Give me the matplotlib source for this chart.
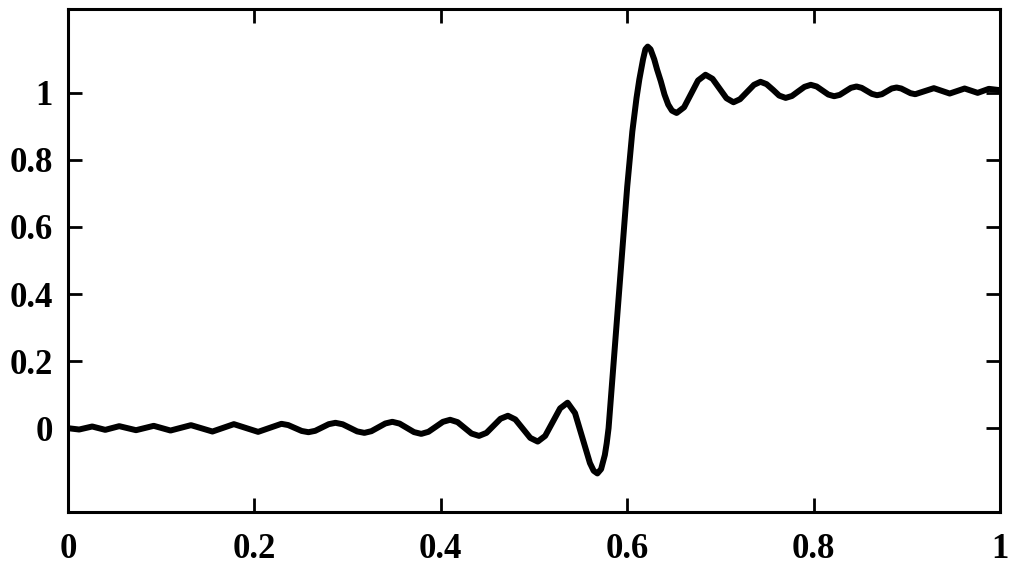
import matplotlib
matplotlib.use("Agg")
import matplotlib.pyplot as plt

# points (x, y): extremes plus in-between points
x_vals = [
    0.000, 0.012, 0.026, 0.040, 0.055, 0.073, 0.092, 0.110, 0.132, 0.155,
    0.178, 0.204, 0.229, 0.23625, 0.2435, 0.25075,
    0.258, 0.26525, 0.2725, 0.27975, 0.287, 0.29475, 0.3025, 0.31025,
    0.318, 0.3255, 0.333, 0.3405, 0.348, 0.35575, 0.3635, 0.37125,
    0.379, 0.38675, 0.3945, 0.40225,
    0.410, 0.418, 0.4255, 0.433, 0.441, 0.449, 0.4565, 0.464,
    0.472, 0.480, 0.488, 0.496, 0.504, 0.512, 0.520, 0.528,
    0.536, 0.544, 0.552, 0.560, 0.564, 0.568, 0.572, 0.576, 0.578,
    0.580, 0.585, 0.590, 0.595, 0.600, 0.6055, 0.610, 0.613, 0.617, 0.6195,
    0.622, 0.625, 0.629, 0.632, 0.636, 0.640, 0.644, 0.648,
    0.653, 0.661, 0.6685, 0.676, 0.684, 0.6915, 0.699, 0.7065,
    0.714, 0.721, 0.7285, 0.736, 0.743, 0.7495, 0.7565, 0.763,
    0.770, 0.77675, 0.7835, 0.79025, 0.797, 0.80325, 0.8095, 0.81575,
    0.822, 0.828, 0.834, 0.840, 0.846, 0.8515, 0.857, 0.8625,
    0.868, 0.87325, 0.8785, 0.88375, 0.889, 0.894, 0.899, 0.904,
    0.909, 0.929, 0.946, 0.962, 0.976, 0.988, 1.000,
]
y_vals = [
    0.000, -0.004, 0.005, -0.005, 0.006, -0.006, 0.007, -0.007, 0.009, -0.010,
    0.012, -0.011, 0.013, 0.0093, 0.0005, -0.0083,
    -0.012, -0.0079, 0.002, 0.0119, 0.016, 0.0116, 0.001, -0.0096,
    -0.014, -0.009, 0.0025, 0.014, 0.019, 0.0137, 0.001, -0.0117,
    -0.017, -0.0108, 0.004, 0.0189,
    0.025, 0.018, 0.001, -0.016, -0.023, -0.014, 0.007, 0.028,
    0.037, 0.026, -0.0015, -0.029, -0.040, -0.023, 0.018, 0.059,
    0.076, 0.045, -0.0295, -0.104, -0.127, -0.135, -0.122, -0.080, -0.045,
    0.000, 0.180, 0.360, 0.540, 0.720, 0.885, 0.985, 1.040, 1.100, 1.130,
    1.138, 1.130, 1.100, 1.070, 1.035, 0.995, 0.965, 0.947,
    0.940, 0.957, 0.997, 1.037, 1.054, 1.042, 1.013, 0.984,
    0.972, 0.981, 1.0025, 1.024, 1.033, 1.026, 1.009, 0.992,
    0.985, 0.9907, 1.0045, 1.018, 1.024, 1.019, 1.007, 0.995,
    0.990, 0.994, 1.0045, 1.015, 1.019, 1.015, 1.006, 0.997,
    0.993, 0.996, 1.0045, 1.013, 1.016, 1.013, 1.006, 0.999,
    0.996, 1.014, 0.998, 1.013, 1.000, 1.012, 1.008,
]

x_ticks = [0, 0.2, 0.4, 0.6, 0.8, 1]
x_labels = ["0", "0.2", "0.4", "0.6", "0.8", "1"]
y_ticks = [0, 0.2, 0.4, 0.6, 0.8, 1]
y_labels = ["0", "0.2", "0.4", "0.6", "0.8", "1"]

plt.rcParams["font.family"] = ["Liberation Serif", "DejaVu Serif"]
plt.rcParams["font.weight"] = "bold"

fig = plt.figure(figsize=(10.13, 5.65), dpi=100)
ax = fig.add_axes([0.0671, 0.0938, 0.9201, 0.8902])

ax.plot(x_vals, y_vals, color="black", linewidth=4.3,
        solid_joinstyle="round", solid_capstyle="round")

ax.set_xlim(0, 1)
ax.set_ylim(-0.25, 1.25)
ax.set_xticks(x_ticks)
ax.set_xticklabels(x_labels)
ax.set_yticks(y_ticks)
ax.set_yticklabels(y_labels)

ax.tick_params(direction="in", length=10, width=2.0, top=True, right=True,
               labelsize=25)
ax.tick_params(axis="y", pad=11)
ax.tick_params(axis="x", pad=15)
for lab in ax.get_xticklabels() + ax.get_yticklabels():
    lab.set_fontweight("bold")
for side in ax.spines.values():
    side.set_linewidth(2.2)

fig.savefig("out.png", dpi=100)
